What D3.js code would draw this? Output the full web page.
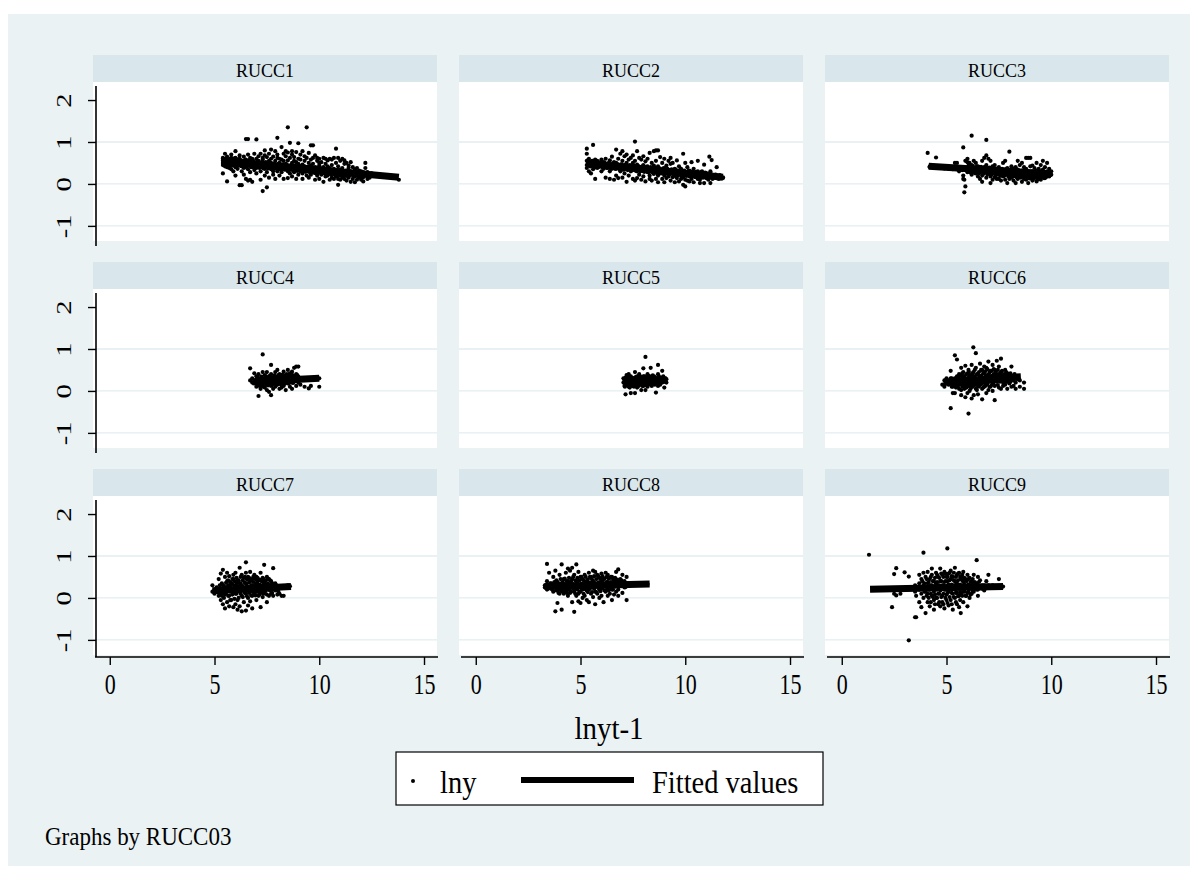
<!DOCTYPE html>
<html>
<head>
<meta charset="utf-8">
<script src="https://cdn.jsdelivr.net/npm/d3@7"></script>
<style>
  html, body { margin: 0; padding: 0; background: #ffffff; }
  svg text { font-family: "Liberation Serif", "Times New Roman", serif; fill: #000; }
</style>
</head>
<body>
<script>
// ---- data -------------------------------------------------------------
const panelLabels = ["RUCC1","RUCC2","RUCC3","RUCC4","RUCC5","RUCC6","RUCC7","RUCC8","RUCC9"];
const xTicks = [0, 5, 10, 15];
const yTicks = [-1, 0, 1, 2];
const gridTicks = [-1, 0, 1];
const xTitle = "lnyt-1";
const legendLabels = ["lny", "Fitted values"];
const noteText = "Graphs by RUCC03";

// observations grouped by lnyt-1 value: [x, [lny values...]]
const rucc1 = [
  [5.4,[0.62,0.55,0.5,0.45,0.25,0.6]],[5.5,[0.72,0.48,0.42,0.58]],[5.6,[0.06,0.52,0.4,0.65]],
  [5.7,[0.55,0.38,0.46]],[5.8,[0.62,0.7,0.5,0.35]],[5.9,[0.44,0.58,0.3]],[6.0,[0.78,0.52,0.4,0.2,0.62]],
  [6.1,[0.45,0.36,0.55]],[6.2,[-0.03,0.6,0.48,0.68]],[6.3,[-0.03,0.42,0.3,0.55]],[6.4,[0.65,0.5,0.38,0.22]],
  [6.5,[1.07,0.58,0.45,0.12]],[6.6,[1.07,0.7,0.35,0.5,0.08]],[6.7,[0.62,0.44,0.28,0.1]],[6.8,[0.55,0.4,0.05,0.6]],
  [6.9,[0.72,0.5,0.33]],[7.0,[1.06,0.6,0.46,0.25,0.38]],[7.1,[0.55,0.4,0.66]],[7.2,[0.72,0.48,0.3,0.1]],
  [7.3,[-0.17,0.58,0.44,0.62]],[7.4,[0.8,0.5,0.36,0.2,0.68]],[7.5,[-0.08,0.64,0.45,0.28]],[7.6,[0.55,0.4,0.15,0.72]],
  [7.7,[0.82,0.5,0.35,0.6]],[7.8,[0.65,0.44,0.22,0.3]],[7.9,[0.78,0.55,0.38,0.12]],[8.0,[1.1,0.62,0.42,0.3,0.7]],
  [8.1,[0.5,0.36,0.2,0.6]],[8.2,[0.88,0.58,0.45,0.28]],[8.3,[0.72,0.4,0.12,0.55]],[8.4,[0.66,0.48,0.35,0.78]],
  [8.5,[1.35,0.75,0.56,0.3,0.14]],[8.6,[0.98,0.62,0.42,0.25]],[8.7,[0.7,0.5,0.36,0.18,0.78]],[8.8,[0.64,0.44,0.28,0.55]],
  [8.9,[0.76,0.52,0.35,0.12]],[9.0,[0.97,0.6,0.4,0.22,0.48]],[9.1,[0.58,0.38,0.3,0.7]],[9.2,[0.78,0.46,0.25,0.12]],
  [9.3,[0.66,0.42,0.33,0.55]],[9.4,[1.35,0.62,0.4,0.2]],[9.5,[0.74,0.5,0.3,0.15]],[9.6,[0.92,0.58,0.36,0.22,0.44]],
  [9.7,[0.92,0.48,0.3,0.62]],[9.8,[0.68,0.4,0.26,0.1]],[9.9,[0.55,0.34,0.2,0.62]],[10.0,[0.6,0.44,0.3,0.12,0.5]],
  [10.1,[0.52,0.36,0.22]],[10.2,[0.62,0.4,0.3,0.05]],[10.3,[0.48,0.34,0.18,0.6]],[10.4,[0.56,0.3,0.2,0.42]],
  [10.5,[0.6,0.38,0.26,0.1]],[10.6,[0.45,0.32,0.15,0.58]],[10.7,[0.62,0.36,0.24,0.12]],[10.8,[0.84,0.5,0.3,0.18]],
  [10.9,[-0.02,0.42,0.28,0.12,0.62]],[11.0,[0.55,0.34,0.2,0.1]],[11.1,[0.6,0.38,0.25,0.15]],[11.2,[0.48,0.3,0.12,0.56]],
  [11.3,[0.5,0.32,0.2,0.08]],[11.4,[0.44,0.28,0.15,0.38]],[11.5,[0.52,0.3,0.05,0.22]],[11.6,[0.4,0.26,0.12]],
  [11.7,[0.34,0.22,0.18,0.04]],[11.8,[0.38,0.24,0.1]],[11.9,[0.32,0.2,0.15]],[12.0,[0.3,0.22,0.1,0.26]],
  [12.1,[0.28,0.16,0.06]],[12.2,[0.5,0.38,0.22]],[12.3,[0.28,0.18,0.12]],[12.4,[0.24,0.15]],[12.5,[0.25,0.2]],
  [12.8,[0.2]],[13.0,[0.18]],[13.8,[0.1]],
  [5.45,[0.56,0.5,0.6,0.47]],[5.55,[0.53,0.6,0.45]],[5.65,[0.55,0.49,0.58]],[5.75,[0.52,0.47,0.6,0.42]],
  [5.85,[0.5,0.57,0.44]],[5.95,[0.53,0.47,0.61]],[6.05,[0.5,0.55,0.44,0.59]],[6.15,[0.52,0.46,0.58]],
  [6.25,[0.5,0.43,0.56]],[6.35,[0.48,0.54,0.42]],[6.45,[0.51,0.44,0.57,0.4]],[6.55,[0.47,0.53,0.41]],
  [6.65,[0.49,0.44,0.56]],[6.75,[0.46,0.52,0.4]],[6.85,[0.48,0.42,0.55]],[6.95,[0.45,0.51,0.39]],
  [7.05,[0.47,0.42,0.53]],[7.15,[0.44,0.5,0.38]],[7.25,[0.46,0.4,0.52]],[7.35,[0.43,0.49,0.37]],
  [7.45,[0.45,0.4,0.52]],[7.55,[0.43,0.48,0.37]],[7.65,[0.44,0.39,0.5]],[7.75,[0.42,0.47,0.36]],
  [7.85,[0.43,0.38,0.49]],[7.95,[0.41,0.46,0.36]],[8.05,[0.42,0.37,0.48]],[8.15,[0.4,0.46,0.35]],
  [8.25,[0.41,0.36,0.47]],[8.35,[0.39,0.44,0.34]],[8.45,[0.4,0.35,0.46]],[8.55,[0.38,0.43,0.33]],
  [8.65,[0.39,0.34,0.45]],[8.75,[0.37,0.42,0.32]],[8.85,[0.38,0.33,0.44]],[8.95,[0.36,0.41,0.31]],
  [9.05,[0.37,0.32,0.43]],[9.15,[0.35,0.4,0.3]],[9.25,[0.36,0.31,0.42]],[9.35,[0.34,0.39,0.29]],
  [9.45,[0.35,0.3,0.41]],[9.55,[0.33,0.38,0.28]],[9.65,[0.34,0.29,0.4]],[9.75,[0.32,0.37,0.27]],
  [9.85,[0.33,0.28,0.39]],[9.95,[0.31,0.36,0.26]],[10.05,[0.32,0.27,0.38]],[10.15,[0.3,0.35,0.25]],
  [10.25,[0.31,0.26,0.36]],[10.35,[0.29,0.34,0.24]],[10.45,[0.3,0.25,0.35]],[10.55,[0.28,0.33,0.23]],
  [10.65,[0.29,0.24,0.34]],[10.75,[0.27,0.32,0.22]],[10.85,[0.28,0.23,0.33]],[10.95,[0.26,0.31,0.21]],
  [11.05,[0.27,0.22,0.32]],[11.15,[0.25,0.3,0.2]],[11.25,[0.26,0.21,0.31]],[11.35,[0.24,0.29,0.19]],
  [11.45,[0.25,0.2,0.3]],[11.55,[0.23,0.28]],[11.65,[0.24,0.19]],[11.75,[0.22,0.27]],[11.85,[0.23,0.18]],
  [11.95,[0.21,0.26]],[12.05,[0.22,0.17]]
];
const rucc2 = [
  [5.3,[0.55,0.45,0.38,0.72,0.84]],[5.4,[0.5,0.3,0.6]],[5.5,[0.42,0.52,0.25]],[5.6,[0.93,0.55,0.48,0.35]],
  [5.7,[0.12,0.5,0.4,0.58]],[5.8,[0.45,0.55,0.38]],[6.0,[0.58,0.44,0.3]],[6.1,[0.52,0.36]],[6.2,[0.15,0.6,0.42]],
  [6.3,[0.48,0.38]],[6.4,[0.12,0.56,0.3]],[6.5,[0.65,0.44,0.36]],[6.6,[0.42,0.1,0.52]],[6.7,[0.82,0.5,0.36,0.2]],
  [6.8,[0.6,0.4,0.14]],[6.9,[0.72,0.46,0.3]],[7.0,[0.78,0.55,0.35,0.15]],[7.1,[0.66,0.45,0.25]],
  [7.2,[0.7,0.5,0.38,0.05]],[7.3,[0.58,0.4,0.2]],[7.4,[0.62,0.44,0.3]],[7.5,[0.68,0.36,0.12,0.5]],
  [7.6,[1.01,0.55,0.4,0.08]],[7.7,[0.78,0.46,0.3,0.14]],[7.8,[0.62,0.36,0.22]],[7.9,[0.58,0.4,0.1]],
  [8.0,[0.66,0.45,0.3,0.18]],[8.1,[0.54,0.36,0.06]],[8.2,[0.6,0.42,0.28]],[8.3,[0.74,0.38,0.2,0.12]],
  [8.4,[0.5,0.3,0.08]],[8.5,[0.78,0.44,0.24]],[8.6,[0.8,0.55,0.36,0.12]],[8.7,[0.8,0.42,0.2,0.04]],
  [8.8,[0.64,0.34,0.26]],[8.9,[0.5,0.3,0.12]],[9.0,[0.6,0.38,0.2,0.04]],[9.1,[0.44,0.28,0.14]],
  [9.2,[0.55,0.32,0.18]],[9.3,[0.48,0.26,0.08,0.62]],[9.4,[0.5,0.3,0.16]],[9.5,[0.36,0.2,0.04]],
  [9.6,[0.56,0.3,0.14]],[9.7,[0.42,0.24,0.06]],[9.8,[0.36,0.2,0.12]],[9.9,[0.72,0.3,0.16,-0.02]],
  [10.0,[0.5,0.26,0.1,-0.06]],[10.1,[0.4,0.22,0.08]],[10.2,[0.32,0.18,0.06]],[10.3,[0.52,0.28,0.12]],
  [10.4,[0.36,0.2,0.04]],[10.5,[0.28,0.16]],[10.6,[0.55,0.3,0.12]],[10.7,[0.24,0.1,0.02]],[10.8,[0.3,0.16]],
  [10.9,[0.46,0.2,0.02]],[11.0,[0.26,0.14]],[11.1,[0.22,0.1]],[11.15,[0.65]],[11.2,[0.3,0.16,0.02]],
  [11.26,[0.57]],[11.3,[0.2,0.12]],[11.5,[0.4,0.2,0.14]],[11.6,[0.18,0.12]],[11.8,[0.16,0.14]],
  [5.35,[0.5,0.44,0.56]],[5.45,[0.47,0.53,0.42]],[5.55,[0.49,0.44,0.55]],[5.65,[0.46,0.52,0.41]],
  [5.75,[0.48,0.43,0.54]],[5.85,[0.45,0.5,0.4]],[5.95,[0.47,0.42,0.52]],[6.05,[0.44,0.49,0.39]],
  [6.15,[0.46,0.41,0.51]],[6.25,[0.43,0.48,0.38]],[6.35,[0.45,0.4,0.5]],[6.45,[0.42,0.47,0.37]],
  [6.55,[0.44,0.39,0.49]],[6.65,[0.41,0.46,0.36]],[6.75,[0.43,0.38,0.48]],[6.85,[0.4,0.45,0.35]],
  [6.95,[0.42,0.37,0.47]],[7.05,[0.39,0.44,0.34]],[7.15,[0.41,0.36,0.46]],[7.25,[0.38,0.43,0.33]],
  [7.35,[0.4,0.35,0.45]],[7.45,[0.37,0.42,0.32]],[7.55,[0.39,0.34,0.44]],[7.65,[0.36,0.41,0.31]],
  [7.75,[0.38,0.33,0.43]],[7.85,[0.35,0.4,0.3]],[7.95,[0.37,0.32,0.42]],[8.05,[0.34,0.39,0.29]],
  [8.15,[0.36,0.31,0.41]],[8.25,[0.33,0.38,0.28]],[8.35,[0.35,0.3,0.4]],[8.45,[0.32,0.37,0.27]],
  [8.55,[0.34,0.29,0.39]],[8.65,[0.31,0.36,0.26]],[8.75,[0.33,0.28,0.38]],[8.85,[0.3,0.35,0.25]],
  [8.95,[0.32,0.27,0.37]],[9.05,[0.29,0.34,0.24]],[9.15,[0.31,0.26,0.36]],[9.25,[0.28,0.33,0.23]],
  [9.35,[0.3,0.25,0.35]],[9.45,[0.27,0.32,0.22]],[9.55,[0.29,0.24,0.34]],[9.65,[0.26,0.31,0.21]],
  [9.75,[0.28,0.23,0.33]],[9.85,[0.25,0.3,0.2]],[9.95,[0.27,0.22,0.32]],[10.05,[0.24,0.29,0.19]],
  [10.15,[0.26,0.21,0.31]],[10.25,[0.23,0.28,0.18]],[10.35,[0.25,0.2,0.3]],[10.45,[0.22,0.27,0.17]],
  [10.55,[0.24,0.19,0.29]],[10.65,[0.21,0.26,0.16]],[10.75,[0.23,0.18,0.28]],[10.85,[0.2,0.25,0.15]],
  [10.95,[0.22,0.17,0.27]],[11.05,[0.19,0.24,0.14]],[11.15,[0.21,0.16]],[11.25,[0.18,0.23]],
  [11.35,[0.2,0.15]],[11.45,[0.17,0.22]],[11.55,[0.19,0.14]],[11.65,[0.16,0.21]]
];
const rucc3 = [
  [4.1,[0.74]],[4.2,[0.42,0.4]],[4.4,[0.41]],[4.5,[0.63]],[4.6,[0.4]],[4.8,[0.39,0.42]],[5.0,[0.38]],
  [5.2,[0.37,0.4]],[5.4,[0.36,0.5]],[5.5,[0.5]],[5.6,[0.36,0.3]],[5.7,[0.4]],[5.8,[0.87,0.2,0.12,0.35]],
  [5.85,[-0.2,0.1]],[5.9,[-0.06,0.34,0.55]],[6.0,[0.6,0.52,0.28,0.38]],[6.1,[0.5,0.3,0.42]],
  [6.2,[1.15,0.45,0.32,0.22]],[6.3,[0.55,0.38,0.3]],[6.4,[0.5,0.35,0.25]],[6.5,[0.42,0.28,0.18]],
  [6.6,[0.4,0.3,0.12]],[6.7,[0.55,0.35,0.2,0.05]],[6.8,[0.62,0.4,0.28]],[6.9,[1.05,0.68,0.45,0.3,0.15]],
  [7.0,[0.6,0.38,0.25]],[7.1,[0.55,0.32,0.18,0.02]],[7.2,[0.42,0.3,0.1]],[7.3,[0.45,0.28,0.16]],
  [7.4,[0.36,0.22,0.12]],[7.5,[0.4,0.3,0.12]],[7.6,[0.35,0.2,0.08]],[7.7,[0.5,0.3,0.18]],
  [7.8,[0.55,0.34,0.22,0.1]],[7.9,[0.38,0.26,0.02]],[8.0,[0.77,0.32,0.2,0.12]],[8.1,[0.42,0.28,0.15]],
  [8.2,[0.36,0.24,0.08]],[8.3,[0.4,0.3,0.18,0.02]],[8.4,[0.55,0.34,0.22,0.12]],[8.5,[0.45,0.28,0.16]],
  [8.6,[0.5,0.32,0.2,0.05]],[8.7,[0.4,0.25,0.12]],[8.8,[0.62,0.36,0.24,0.1]],[8.9,[0.62,0.3,0.18,0.02]],
  [9.0,[0.62,0.42,0.26,0.14]],[9.1,[0.44,0.3,0.2,0.08]],[9.2,[0.38,0.28,0.16]],[9.3,[0.5,0.32,0.22,0.06]],
  [9.4,[0.36,0.26,0.14]],[9.5,[0.45,0.3,0.2,0.1]],[9.6,[0.55,0.34,0.24]],[9.7,[0.4,0.28,0.14]],
  [9.8,[0.5,0.3,0.2]],[9.9,[0.36,0.26,0.18]],[10.0,[0.3,0.22]],
  [4.3,[0.43]],[4.7,[0.42,0.38]],[4.9,[0.4,0.37]],[5.1,[0.39,0.36]],[5.3,[0.38,0.35]],[5.55,[0.37,0.39]],
  [5.75,[0.36,0.33]],[6.05,[0.36,0.3,0.44]],[6.15,[0.34,0.4,0.27]],[6.25,[0.37,0.31,0.43]],
  [6.35,[0.33,0.39,0.26]],[6.45,[0.36,0.3,0.42]],[6.55,[0.32,0.38,0.25]],[6.65,[0.35,0.29,0.41]],
  [6.75,[0.31,0.37,0.24]],[6.85,[0.34,0.28,0.4]],[6.95,[0.3,0.36,0.23]],[7.05,[0.33,0.27,0.39]],
  [7.15,[0.29,0.35,0.22]],[7.25,[0.32,0.26,0.38]],[7.35,[0.28,0.34,0.21]],[7.45,[0.31,0.25,0.37]],
  [7.55,[0.27,0.33,0.2]],[7.65,[0.3,0.24,0.36]],[7.75,[0.26,0.32,0.19]],[7.85,[0.29,0.23,0.35]],
  [7.95,[0.25,0.31,0.18]],[8.05,[0.28,0.22,0.34]],[8.15,[0.24,0.3,0.17]],[8.25,[0.27,0.21,0.33]],
  [8.35,[0.23,0.29,0.16]],[8.45,[0.26,0.2,0.32]],[8.55,[0.22,0.28,0.15]],[8.65,[0.25,0.19,0.31]],
  [8.75,[0.21,0.27,0.14]],[8.85,[0.24,0.18,0.3]],[8.95,[0.2,0.26,0.13]],[9.05,[0.23,0.17,0.29]],
  [9.15,[0.19,0.25,0.12]],[9.25,[0.22,0.16,0.28]],[9.35,[0.18,0.24,0.11]],[9.45,[0.21,0.15,0.27]],
  [9.55,[0.17,0.23,0.3]],[9.65,[0.2,0.14,0.26]],[9.75,[0.16,0.22,0.28]],[9.85,[0.19,0.25]],[9.95,[0.21,0.27]]
];
const rucc4 = [
  [6.7,[0.54,0.25]],[6.8,[0.3,0.2]],[6.9,[0.42,0.18]],[7.0,[0.35,0.25,0.1]],[7.1,[-0.12,0.4,0.15,0.3]],
  [7.2,[0.28,0.05,0.2]],[7.3,[0.87,0.45,0.3,0.12]],[7.4,[0.38,0.22,0.08]],[7.5,[0.3,0.45,0.15,0.02]],
  [7.6,[0.35,0.2,-0.02]],[7.7,[0.62,0.4,0.26,-0.1,0.12]],[7.8,[0.3,0.18,0.05]],[7.9,[0.45,0.22,0.1]],
  [8.0,[0.5,0.35,0.28,0.15]],[8.1,[0.4,0.2,0.05]],[8.2,[0.32,0.18,0.08]],[8.3,[0.46,0.3,0.12]],
  [8.4,[0.38,0.22,0.02]],[8.5,[0.5,0.34,0.18]],[8.6,[0.42,0.28,0.1]],[8.7,[0.46,0.3,0.2,0.05]],
  [8.8,[0.55,0.36,0.22]],[8.9,[0.58,0.4,0.28,0.12]],[9.0,[0.58,0.34,0.2]],[9.1,[0.28,0.15]],
  [9.3,[0.1]],[9.5,[0.06]],[9.6,[0.12]],[10.0,[0.1,0.3]],
  [7.05,[0.25,0.18,0.32]],[7.15,[0.22,0.3,0.12]],[7.25,[0.26,0.16,0.34]],[7.35,[0.21,0.29,0.1]],
  [7.45,[0.27,0.17,0.35]],[7.55,[0.23,0.31,0.13]],[7.65,[0.28,0.18,0.36]],[7.75,[0.24,0.32,0.14]],
  [7.85,[0.29,0.19,0.37]],[7.95,[0.25,0.33,0.15]],[8.05,[0.3,0.2,0.38]],[8.15,[0.26,0.34,0.16]],
  [8.25,[0.31,0.21,0.39]],[8.35,[0.27,0.35,0.17]],[8.45,[0.32,0.22,0.4]],[8.55,[0.28,0.36,0.18]],
  [8.65,[0.33,0.23,0.41]],[8.75,[0.29,0.37,0.19]],[8.85,[0.34,0.24]],[8.95,[0.3,0.38]]
];
const rucc5 = [
  [7.05,[0.2,0.3]],[7.1,[0.12,0.25]],[7.15,[-0.08,0.32]],[7.2,[0.18,0.22,0.38]],[7.3,[0.1,0.28,0.4]],
  [7.4,[-0.05,0.2,0.35,0.15]],[7.5,[0.25,0.12,0.3]],[7.6,[0.32,0.18,-0.05,0.45]],[7.7,[0.22,0.08,0.35]],
  [7.8,[0.28,0.14,0.4]],[7.9,[0.2,0.02,0.3]],[8.0,[0.54,0.25,0.12,0.35]],[8.1,[0.81,0.3,0.18,0.02]],
  [8.2,[0.22,0.1,0.4]],[8.3,[0.28,0.16,0.35]],[8.35,[0.55,0.2]],[8.4,[0.3,0.12]],[8.5,[0.25,0.35,0.18]],
  [8.6,[-0.04,0.3,0.2]],[8.7,[0.62,0.22,0.12,0.4]],[8.8,[0.28,0.15]],[8.9,[0.48,0.32,0.2]],
  [9.0,[0.25,0.08]],[9.1,[0.28,0.2]],
  [7.12,[0.2,0.28,0.1]],[7.25,[0.24,0.14,0.32]],[7.35,[0.19,0.27,0.08]],[7.45,[0.23,0.31,0.13]],
  [7.55,[0.2,0.28,0.1]],[7.65,[0.25,0.15,0.33]],[7.75,[0.21,0.29,0.11]],[7.85,[0.26,0.16,0.34]],
  [7.95,[0.22,0.3,0.12]],[8.05,[0.27,0.17,0.35]],[8.15,[0.23,0.31,0.13]],[8.25,[0.28,0.18,0.36]],
  [8.32,[0.24,0.32]],[8.45,[0.29,0.19,0.37]],[8.55,[0.25,0.33,0.15]],[8.65,[0.3,0.2]],
  [8.75,[0.26,0.34,0.16]],[8.85,[0.31,0.21]],[8.95,[0.27,0.35]],[9.05,[0.22,0.3]]
];
const rucc6 = [
  [4.8,[0.15]],[4.9,[0.25,0.1]],[5.0,[0.2,0.3]],[5.1,[0.15,0.22]],[5.2,[-0.41,0.48,0.3,0.18]],
  [5.3,[0.25,0.1,-0.05]],[5.4,[0.85,0.3,0.2,-0.05]],[5.5,[0.75,0.35,0.15]],[5.6,[0.28,0.05,0.4]],
  [5.7,[0.55,0.22,0.02,-0.1]],[5.8,[0.35,0.15,0.45]],[5.9,[0.6,0.25,0.08,-0.15]],[6.0,[0.42,0.3,0.12,-0.05]],
  [6.05,[-0.54,0.5]],[6.1,[0.35,0.2,0.0]],[6.2,[0.62,0.28,0.1,-0.18]],[6.28,[1.04,0.45]],
  [6.3,[0.35,0.15,-0.1]],[6.4,[0.9,0.55,0.3,0.05]],[6.5,[0.4,0.22,0.12,-0.08]],[6.6,[0.65,0.32,0.15]],
  [6.7,[0.5,0.28,0.05,-0.2]],[6.8,[0.42,0.2,0.1,0.58]],[6.9,[0.55,0.35,0.15,-0.05]],[7.0,[0.7,0.38,0.25,0.02]],
  [7.1,[0.48,0.3,0.1]],[7.2,[0.62,0.35,0.2,0.0]],[7.3,[0.5,0.28,-0.22,0.12]],[7.4,[0.72,0.4,0.22]],
  [7.5,[0.58,0.3,0.08]],[7.6,[0.77,0.45,0.25,0.05]],[7.7,[0.38,0.2,0.12]],[7.8,[0.5,0.3,0.15]],
  [7.9,[0.42,0.22,0.05]],[8.0,[0.35,0.18]],[8.1,[0.58,0.3,0.1]],[8.2,[0.25,0.12]],[8.3,[0.32,0.2,0.05]],
  [8.5,[0.25,0.1]],[8.7,[0.2,0.05]],
  [5.25,[0.2,0.1,0.3]],[5.35,[0.24,0.14]],[5.45,[0.18,0.28,0.08]],[5.55,[0.22,0.32,0.12]],
  [5.65,[0.26,0.16,0.36]],[5.75,[0.2,0.3,0.1,0.42]],[5.85,[0.25,0.15,0.35,0.05]],[5.95,[0.28,0.18,0.4,0.08]],
  [6.07,[0.22,0.32,0.12,0.45]],[6.15,[0.27,0.17,0.38,0.05]],[6.25,[0.3,0.2,0.42,0.1]],[6.35,[0.24,0.34,0.14,0.5]],
  [6.45,[0.28,0.18,0.4,0.02]],[6.55,[0.32,0.22,0.45,0.1]],[6.65,[0.26,0.36,0.16,0.5]],[6.75,[0.3,0.2,0.42,0.08]],
  [6.85,[0.34,0.24,0.47,0.12]],[6.95,[0.28,0.38,0.18,0.52]],[7.05,[0.32,0.22,0.44,0.1]],[7.15,[0.36,0.26,0.48,0.14]],
  [7.25,[0.3,0.4,0.2,0.52]],[7.35,[0.34,0.24,0.46]],[7.45,[0.38,0.28,0.5,0.14]],[7.55,[0.32,0.42,0.22]],
  [7.65,[0.36,0.26,0.48]],[7.75,[0.3,0.4,0.2]],[7.85,[0.34,0.24,0.45]],[7.95,[0.38,0.28]],
  [8.05,[0.32,0.22,0.42]],[8.15,[0.36,0.26]],[8.25,[0.3,0.4]],[8.4,[0.34,0.28]]
];
const rucc7 = [
  [4.9,[0.3,0.15]],[5.0,[0.2,0.1]],[5.1,[0.25]],[5.2,[0.45,0.15,0.05]],[5.3,[0.58,0.2,-0.05]],
  [5.4,[0.67,0.3,0.12,-0.15]],[5.5,[0.5,0.25,0.08,-0.25]],[5.6,[0.4,0.18,-0.1,0.6]],[5.7,[0.52,0.3,0.05,-0.2]],
  [5.8,[0.35,0.2,-0.05]],[5.9,[0.45,0.12,-0.22,0.55]],[6.0,[0.6,0.3,0.1,-0.15]],[6.1,[0.42,0.22,-0.05,-0.28]],
  [6.2,[0.72,0.35,0.15,-0.2]],[6.3,[0.55,0.28,0.05,-0.32]],[6.4,[0.48,0.2,-0.1]],[6.5,[0.85,0.6,0.35,0.1,-0.3]],
  [6.6,[0.5,0.25,0.0,-0.18]],[6.7,[0.62,0.4,0.15,-0.08]],[6.8,[0.45,0.3,0.05,-0.25]],[6.9,[0.55,0.22,0.1]],
  [7.0,[0.5,0.35,0.15,-0.05]],[7.1,[0.42,0.25,0.05]],[7.2,[0.6,0.3,0.12,-0.22]],[7.3,[0.48,0.2,0.02]],
  [7.37,[0.79,0.4]],[7.4,[0.35,0.15]],[7.5,[0.5,0.28,0.08,-0.1]],[7.6,[0.45,0.2,0.05]],[7.7,[0.4,0.25,0.1]],
  [7.8,[0.71,0.3,0.05]],[7.9,[0.35,0.18]],[8.0,[0.22,0.08]],[8.1,[0.25,0.1]],[8.2,[0.05]],[8.3,[0.28,0.05]],
  [8.5,[0.3]],[8.6,[0.28]],
  [5.25,[0.2,0.1,0.3]],[5.35,[0.22,0.05,0.35]],[5.45,[0.18,0.28,0.0]],[5.55,[0.24,0.12,0.36]],
  [5.65,[0.2,0.3,0.05,0.42]],[5.75,[0.25,0.15,0.38,-0.05]],[5.85,[0.21,0.32,0.08,0.45]],[5.95,[0.26,0.16,0.4,-0.02]],
  [6.05,[0.22,0.34,0.1,0.48]],[6.15,[0.27,0.17,0.42,0.0]],[6.25,[0.23,0.35,0.1,0.5]],[6.35,[0.28,0.18,0.42,0.02]],
  [6.45,[0.24,0.36,0.12,0.5]],[6.55,[0.29,0.19,0.44,0.04]],[6.65,[0.25,0.37,0.12,0.48]],[6.75,[0.3,0.2,0.44,0.06]],
  [6.85,[0.26,0.38,0.14,0.5]],[6.95,[0.31,0.21,0.45,0.06]],[7.05,[0.27,0.39,0.15,0.48]],[7.15,[0.32,0.22,0.44,0.08]],
  [7.25,[0.28,0.4,0.16]],[7.35,[0.33,0.23,0.45,0.1]],[7.45,[0.29,0.41,0.17]],[7.55,[0.34,0.24,0.46]],
  [7.65,[0.3,0.42,0.18]],[7.75,[0.35,0.25,0.12]],[7.85,[0.31,0.22]],[7.95,[0.3,0.2]],[8.05,[0.28,0.15]]
];
const rucc8 = [
  [3.3,[0.3,0.25]],[3.4,[0.81,0.4,0.2]],[3.5,[0.6,0.28]],[3.6,[0.22,0.35]],[3.7,[0.5,0.28,0.15]],
  [3.8,[-0.32,0.65,0.3]],[3.9,[-0.12,0.2,0.38]],[4.0,[0.55,0.28,0.1]],[4.1,[-0.28,0.8,0.35,0.18]],
  [4.2,[0.45,0.25,0.1]],[4.3,[0.6,0.3,0.15]],[4.4,[0.7,0.4,0.2,0.05]],[4.5,[0.65,0.3,0.12]],
  [4.6,[0.72,0.45,0.25,-0.1]],[4.7,[-0.33,0.55,0.3,0.15]],[4.8,[0.8,0.4,0.22,0.05]],[4.9,[0.62,0.3,0.1,-0.08]],
  [5.0,[0.5,0.28,0.15,-0.12]],[5.1,[0.45,0.32,0.2,0.0]],[5.2,[0.55,0.25,0.05]],[5.3,[0.4,0.18,-0.05]],
  [5.4,[0.6,0.35,0.2,-0.1]],[5.5,[0.5,0.28,0.1]],[5.6,[0.65,0.4,0.25,0.02]],[5.7,[0.62,0.35,0.15,-0.15]],
  [5.8,[0.55,0.3,0.1]],[5.9,[0.48,0.32,0.2,0.0]],[6.0,[0.58,0.4,0.22,0.05]],[6.1,[0.45,0.3,-0.1]],
  [6.2,[0.6,0.35,0.15]],[6.3,[0.55,0.38,0.22,0.05]],[6.4,[0.48,0.3,0.1]],[6.5,[0.5,0.35,0.2,-0.05]],
  [6.6,[0.42,0.28,0.08]],[6.7,[0.62,0.35,0.15]],[6.8,[0.68,0.4,0.2,0.05]],[6.9,[0.45,0.3]],
  [7.0,[0.55,0.35,0.12]],[7.1,[0.4,0.25]],[7.2,[0.5,-0.05,0.3]],[7.4,[0.35,0.3]],[7.6,[0.32]],
  [7.8,[0.33]],[8.0,[0.34]],[8.2,[0.33]],
  [3.45,[0.3,0.22]],[3.55,[0.27,0.35]],[3.65,[0.32,0.2]],[3.75,[0.25,0.38]],[3.85,[0.3,0.18,0.42]],
  [3.95,[0.27,0.35,0.12]],[4.05,[0.32,0.2,0.45]],[4.15,[0.26,0.38,0.15]],[4.25,[0.33,0.22,0.46]],
  [4.35,[0.28,0.4,0.12]],[4.45,[0.34,0.2,0.48]],[4.55,[0.27,0.4,0.15]],[4.65,[0.33,0.22,0.5]],
  [4.75,[0.28,0.42,0.1]],[4.85,[0.35,0.2,0.48]],[4.95,[0.28,0.42,0.14]],[5.05,[0.34,0.22,0.5]],
  [5.15,[0.29,0.42,0.1]],[5.25,[0.35,0.2,0.5]],[5.35,[0.3,0.44,0.14]],[5.45,[0.36,0.22,0.5]],
  [5.55,[0.3,0.44,0.14]],[5.65,[0.36,0.22,0.52]],[5.75,[0.3,0.45,0.14]],[5.85,[0.37,0.24,0.52]],
  [5.95,[0.31,0.45,0.16]],[6.05,[0.37,0.25,0.52]],[6.15,[0.32,0.46,0.18]],[6.25,[0.38,0.26,0.5]],
  [6.35,[0.32,0.46,0.18]],[6.45,[0.38,0.26,0.5]],[6.55,[0.33,0.45,0.2]],[6.65,[0.38,0.27,0.48]],
  [6.75,[0.33,0.44]],[6.85,[0.38,0.28]],[6.95,[0.34,0.42]],[7.05,[0.3,0.38]],[7.15,[0.34,0.26]],
  [7.3,[0.32]],[7.5,[0.33]],[7.7,[0.32]],[7.9,[0.33]],[8.1,[0.34]]
];
const rucc9 = [
  [1.3,[1.03]],[2.4,[-0.22]],[2.5,[0.57,0.1]],[2.6,[0.71,0.06]],[2.8,[0.1]],[3.0,[0.61]],[3.2,[-1.01,0.51]],
  [3.5,[-0.46,0.3,0.15]],[3.55,[-0.46,0.05]],[3.7,[0.55,0.35,0.2,-0.1]],[3.8,[0.45,-0.22,0.1]],
  [3.9,[1.08,0.6,0.3,0.0]],[4.0,[-0.36,0.5,0.25,0.15]],[4.1,[0.62,0.35,0.1,-0.1]],[4.2,[0.45,0.2,-0.2]],
  [4.3,[0.7,0.55,0.3,0.05]],[4.4,[0.4,0.15,-0.05,-0.28]],[4.5,[0.6,0.35,0.22,0.0]],[4.6,[0.5,0.3,0.1,-0.15]],
  [4.7,[0.7,0.4,0.18,-0.2]],[4.8,[0.55,0.3,0.05,-0.1]],[4.9,[0.62,0.38,0.2,-0.25]],[5.0,[0.5,0.28,0.08,-0.05]],
  [5.04,[1.18,0.4]],[5.1,[0.58,0.32,0.15,-0.18]],[5.2,[0.65,0.45,0.22,-0.05]],[5.3,[0.5,0.3,0.1,-0.28]],
  [5.4,[0.72,0.4,0.2,0.0]],[5.5,[0.55,0.35,0.12,-0.15]],[5.6,[0.6,0.3,0.05,-0.22]],[5.68,[-0.36,0.45]],
  [5.7,[0.5,0.25,0.1]],[5.8,[0.62,0.38,0.15,-0.1]],[5.9,[0.45,0.28,0.05]],[6.0,[0.55,0.3,0.12,-0.2]],
  [6.1,[0.48,0.22,0.0]],[6.2,[0.4,0.25,0.1]],[6.3,[0.55,0.3,0.15]],[6.44,[0.9,0.35]],[6.5,[0.5,0.2,0.05]],
  [6.6,[0.42,0.25]],[6.8,[0.3,0.18]],[7.0,[0.55,0.3]],[7.1,[0.28]],[7.3,[0.25]],[7.5,[0.45]],[7.7,[0.27]],
  [3.85,[0.22,0.4]],[3.95,[0.15,0.35]],[4.05,[0.25,0.05,0.45]],[4.15,[0.2,0.38,0.0]],[4.25,[0.3,0.1,0.5,-0.1]],
  [4.35,[0.22,0.4,0.02]],[4.45,[0.28,0.08,0.48,-0.15]],[4.55,[0.2,0.38,0.0,0.55]],[4.65,[0.3,0.1,0.48,-0.1]],
  [4.75,[0.22,0.4,0.02,0.58]],[4.85,[0.3,0.1,0.5,-0.15]],[4.95,[0.2,0.4,0.0,0.58]],[5.05,[0.3,0.12,0.5,-0.12]],
  [5.15,[0.22,0.42,0.02,0.6]],[5.25,[0.32,0.12,0.52,-0.15]],[5.35,[0.22,0.42,0.02,0.6]],[5.45,[0.32,0.12,0.5,-0.1]],
  [5.55,[0.24,0.42,0.04,0.58]],[5.65,[0.32,0.14,0.5,-0.05]],[5.75,[0.24,0.42,0.05,0.55]],[5.85,[0.32,0.15,0.48]],
  [5.95,[0.25,0.4,0.05]],[6.05,[0.32,0.15,0.45]],[6.15,[0.26,0.38,0.08]],[6.25,[0.32,0.18,0.45]],
  [6.35,[0.27,0.38]],[6.45,[0.3,0.2]],[6.55,[0.28,0.38]],[6.7,[0.3,0.22]],[6.9,[0.28,0.4]],[7.2,[0.3]],[7.4,[0.28]]
];
const panelPoints = [rucc1, rucc2, rucc3, rucc4, rucc5, rucc6, rucc7, rucc8, rucc9];

// fitted values line per panel: [x start, fitted start, x end, fitted end]
const fitLines = [
  [5.4, 0.54, 13.8, 0.16],
  [5.3, 0.49, 11.8, 0.16],
  [4.15, 0.42, 10.0, 0.24],
  [6.8, 0.22, 10.0, 0.30],
  [7.08, 0.18, 9.12, 0.26],
  [4.85, 0.20, 8.55, 0.34],
  [4.9, 0.17, 8.65, 0.27],
  [3.28, 0.27, 8.3, 0.33],
  [1.35, 0.21, 7.7, 0.27]
];

// ---- layout -----------------------------------------------------------
const W = 1198, H = 872;
const colLeft = [93, 459, 825];
const stripTop = [55, 262, 469];
const panelW = 344, stripH = 27, plotH = 159;
const tickStretch = 1.3;   // tall Times-style tick labels

const svg = d3.select("body").append("svg")
  .attr("width", W).attr("height", H);

svg.append("rect").attr("x", 0).attr("y", 0).attr("width", W).attr("height", H).attr("fill", "#ffffff");
svg.append("rect").attr("x", 8).attr("y", 14).attr("width", 1182).attr("height", 852).attr("fill", "#eaf2f3");

panelPoints.forEach((groups, i) => {
  const row = Math.floor(i / 3), col = i % 3;
  const left = colLeft[col];
  const top = stripTop[row] + stripH;
  const bottom = top + plotH;

  const x = d3.scaleLinear().domain([-0.8, 15.62]).range([left, left + panelW]);
  const y = d3.scaleLinear().domain([-1.36, 2.43]).range([bottom, top]);

  const g = svg.append("g");

  // subtitle strip
  g.append("rect").attr("x", left).attr("y", stripTop[row]).attr("width", panelW).attr("height", stripH)
    .attr("fill", "#d9e6eb");
  g.append("text").attr("x", left + panelW / 2).attr("y", stripTop[row] + 21.5)
    .attr("text-anchor", "middle").style("font-size", "18px").text(panelLabels[i]);

  // plot region
  g.append("rect").attr("x", left).attr("y", top).attr("width", panelW).attr("height", plotH)
    .attr("fill", "#ffffff");

  // grid lines
  g.selectAll("line.grid").data(gridTicks).join("line").attr("class", "grid")
    .attr("x1", left).attr("x2", left + panelW)
    .attr("y1", d => y(d)).attr("y2", d => y(d))
    .attr("stroke", "#e3edf0").attr("stroke-width", 1.3);

  // observations
  const pts = groups.flatMap(([xv, ys]) => ys.map(yv => [xv, yv]));
  g.selectAll("circle").data(pts).join("circle")
    .attr("cx", d => x(d[0])).attr("cy", d => y(d[1])).attr("r", 2.1)
    .attr("fill", "#000");

  // fitted values
  const f = fitLines[i];
  g.append("line")
    .attr("x1", x(f[0])).attr("y1", y(f[1])).attr("x2", x(f[2])).attr("y2", y(f[3]))
    .attr("stroke", "#000").attr("stroke-width", 7);

  // y axis on the first column
  if (col === 0) {
    const ax = left + 3;
    const yAxis = d3.axisLeft(y).tickValues(yTicks).tickFormat(d => String(d)).tickSize(8).tickSizeOuter(0);
    const ga = svg.append("g").attr("transform", `translate(${ax},0)`).call(yAxis)
      .attr("font-family", null).attr("font-size", null);
    ga.select(".domain").remove();
    ga.selectAll(".tick line").attr("stroke", "#000").attr("stroke-width", 1.4);
    ga.selectAll(".tick text")
      .attr("transform", `rotate(-90) scale(${tickStretch},1)`)
      .attr("x", 0).attr("y", -25).attr("dy", null)
      .attr("text-anchor", "middle")
      .attr("fill", "#000").style("font-size", "22px");
    svg.append("line").attr("x1", ax).attr("x2", ax).attr("y1", top + 4).attr("y2", bottom + (row === 2 ? 2 : 5))
      .attr("stroke", "#000").attr("stroke-width", 1.6);
  }

  // x axis on the bottom row
  if (row === 2) {
    const ay = bottom + 2;
    const xAxis = d3.axisBottom(x).tickValues(xTicks).tickFormat(d => String(d)).tickSize(8).tickSizeOuter(0);
    const gx = svg.append("g").attr("transform", `translate(0,${ay})`).call(xAxis)
      .attr("font-family", null).attr("font-size", null);
    gx.select(".domain").remove();
    gx.selectAll(".tick line").attr("stroke", "#000").attr("stroke-width", 1.4);
    gx.selectAll(".tick text")
      .attr("y", 0).attr("dy", null)
      .attr("transform", `translate(0,36.5) scale(1,${tickStretch})`)
      .attr("fill", "#000").style("font-size", "22px");
    svg.append("line").attr("x1", left + 2).attr("x2", left + panelW + 1).attr("y1", ay).attr("y2", ay)
      .attr("stroke", "#000").attr("stroke-width", 1.6);
  }
});

// helper for horizontally set labels with a slight vertical stretch
function label(xp, yp, txt, size, stretch, anchor) {
  return svg.append("text")
    .attr("transform", `translate(${xp},${yp}) scale(1,${stretch})`)
    .attr("text-anchor", anchor || "start")
    .style("font-size", size + "px").text(txt);
}

// x title
label(609, 739, xTitle, 29, 1.12, "middle");

// legend
const lg = svg.append("g");
lg.append("rect").attr("x", 396).attr("y", 752).attr("width", 427).attr("height", 53)
  .attr("fill", "#ffffff").attr("stroke", "#000").attr("stroke-width", 1.2);
lg.append("circle").attr("cx", 413).attr("cy", 781).attr("r", 2).attr("fill", "#000");
lg.append("line").attr("x1", 521).attr("x2", 634).attr("y1", 780).attr("y2", 780)
  .attr("stroke", "#000").attr("stroke-width", 6);
label(440, 793, legendLabels[0], 28.5, 1.12);
label(652, 793, legendLabels[1], 28.5, 1.12);

// note
label(45, 845, noteText, 23, 1.08);
</script>
</body>
</html>
